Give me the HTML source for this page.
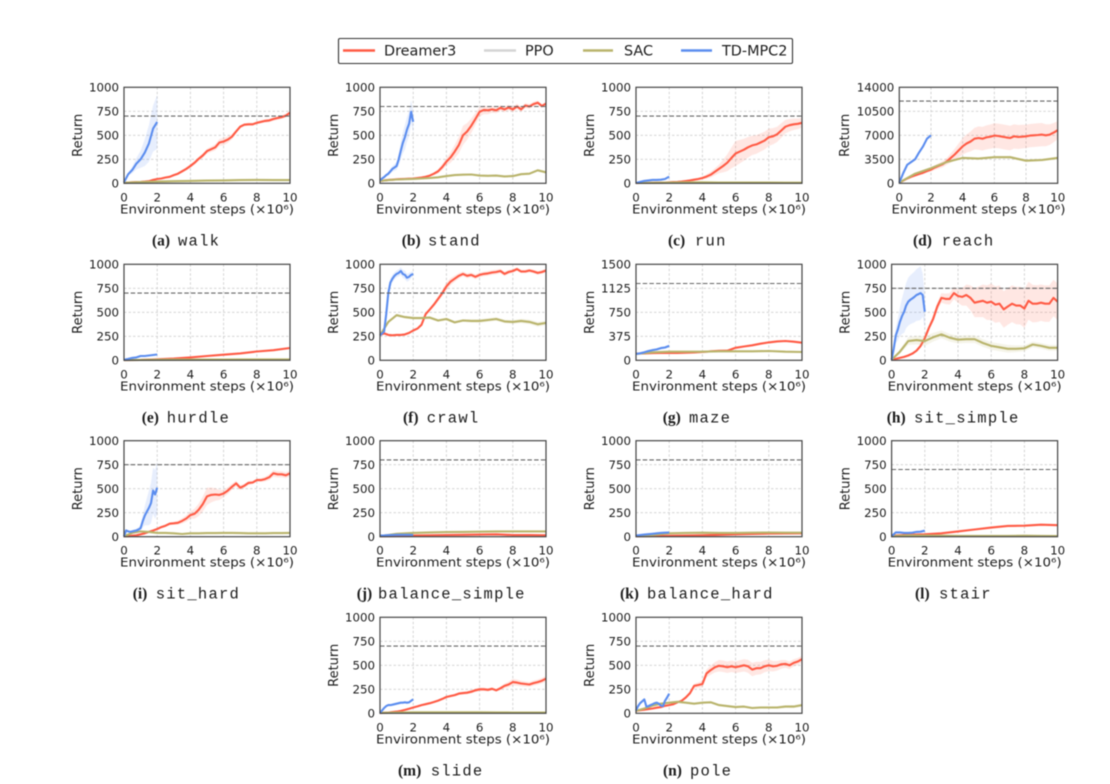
<!DOCTYPE html>
<html lang="en">
<head>
<meta charset="utf-8">
<title>Learning curves</title>
<style>
html,body{margin:0;padding:0;background:#fff;width:1110px;height:784px;overflow:hidden}
svg{display:block;filter:blur(0.45px)}
text{font-family:"DejaVu Sans","Liberation Sans",sans-serif;fill:#1c1c1c}
.tick{font-size:11.8px}
.axis-label{font-size:12px}
.return-label{font-size:13px}
.cap-b{font-family:"Liberation Serif",serif;font-weight:bold;font-size:15.5px}
.cap-m{font-family:"Liberation Mono",monospace;font-size:15.5px;letter-spacing:1.25px}
.legend-text{font-size:14.4px}
</style>
</head>
<body>
<svg id="chart" width="1110" height="784" viewBox="0 0 1110 784" xmlns="http://www.w3.org/2000/svg">
<g>
<rect x="338.5" y="38.5" width="454" height="25" rx="1.5" fill="#fff" stroke="#333" stroke-width="1.1"/>
<g>
<line x1="343" x2="375" y1="50.5" y2="50.5" stroke="#ff5b45" stroke-width="2.5"/>
<text class="legend-text" x="384" y="55.5">Dreamer3</text>
</g>
<g>
<line x1="484" x2="516" y1="50.5" y2="50.5" stroke="#d4d4d4" stroke-width="2.5"/>
<text class="legend-text" x="525" y="55.5">PPO</text>
</g>
<g>
<line x1="583" x2="613" y1="50.5" y2="50.5" stroke="#b9b46c" stroke-width="2.5"/>
<text class="legend-text" x="624" y="55.5">SAC</text>
</g>
<g>
<line x1="681" x2="712" y1="50.5" y2="50.5" stroke="#5b8def" stroke-width="2.5"/>
<text class="legend-text" x="722" y="55.5">TD-MPC2</text>
</g>
</g>
</svg>
<script>
// ---------- tick labels ----------
const xTicks = [0, 2, 4, 6, 8, 10];
const yTicks1000 = [0, 250, 500, 750, 1000];
const yTicks1500 = [0, 375, 750, 1125, 1500];
const yTicks14000 = [0, 3500, 7000, 10500, 14000];

// ---------- walk ----------
const walkDreamer = [5,8,10,12,15,18,22,35,45,50,60,68,85,100,125,150,180,215,255,290,335,355,375,425,435,455,485,540,590,610,615,615,630,640,650,655,670,680,690,705,735];
const walkDreamerSpread = [2,3,5,10,20,25,40,15,15,20,20];
const walkSac = [5,12,18,22,25,28,30,33,35,33,33];
const walkSacSpread = [1,2,3,3,3,3,3,3,3,3,3];
const walkTd = [10,95,140,205,250,320,415,570,640];
const walkTdSpread = [5,15,35,60,90,140,190,240,280];
// ---------- stand ----------
const standDreamer = [25,30,35,38,42,44,46,48,50,55,60,68,80,100,125,170,225,270,330,400,500,540,600,670,745,765,760,770,760,785,770,790,770,800,770,810,800,825,840,805,830];
const standDreamerSpread = [3,3,3,5,40,100,50,30,30,25,20];
const standSac = [25,33,40,43,46,50,55,62,75,85,90,92,80,78,80,72,75,95,100,135,115];
const standSacSpread = [2,2,3,4,5,8,8,8,8,10,12];
const standTd = [30,50,65,85,100,125,150,165,180,250,340,420,480,560,620,745,640];
const standTdSpread = [3,10,20,30,40,90,130,130,110];
// ---------- run ----------
const runDreamer = [2,3,4,4,5,6,7,8,10,12,15,18,24,30,38,45,55,70,90,120,150,180,215,265,310,330,350,375,395,405,425,445,480,490,510,550,590,605,615,620,630];
const runDreamerSpread = [1,1,2,5,15,45,130,100,90,70,50];
const runSac = [3,5,8,10,10,8,8,7,7,6,6];
const runSacSpread = [1,1,1,1,1,1,1,1,1,1,1];
const runTd = [3,15,25,30,35,35,38,45,70];
const runTdSpread = [1,3,4,5,5,5,6,8,10];
// ---------- reach ----------
const reachDreamer = [100,400,700,950,1150,1350,1550,1800,2000,2300,2550,2800,3200,3700,4200,4800,5400,5800,6100,6500,6600,6500,6700,6800,6950,6900,6800,6700,6600,6850,6750,6800,6850,6950,7000,7050,7100,7000,7100,7400,7750];
const reachDreamerSpread = [50,150,300,500,1200,1700,1800,1800,1700,1700,1300];
const reachSac = [100,1400,2200,3100,3700,3600,3800,3800,3300,3400,3700];
const reachSacSpread = [50,150,150,150,150,150,150,200,200,200,200];
const reachTd = [100,1500,2700,3100,3500,4500,5400,6500,7000];
const reachTdSpread = [20,100,120,100,100,100,100,100,100];
// ---------- hurdle ----------
const hurdleDreamer = [2,4,10,18,30,45,58,72,92,105,128];
const hurdleDreamerSpread = [1,1,2,3,3,4,4,4,5,5,6];
const hurdleSac = [2,4,6,7,8,8,8,9,9,9,9];
const hurdleSacSpread = [1,1,1,1,1,1,1,1,1,1,1];
const hurdleTd = [5,15,25,30,45,45,50,55,60];
const hurdleTdSpread = [1,3,5,6,8,8,8,8,8];
// ---------- crawl ----------
const crawlDreamer = [265,280,265,260,265,265,270,285,310,330,370,480,530,580,640,700,770,820,850,880,900,880,890,870,890,900,905,915,920,930,900,920,930,950,925,925,935,925,910,920,935];
const crawlDreamerSpread = [5,5,10,15,40,25,25,25,20,20,20];
const crawlSac = [260,400,470,450,440,440,445,415,430,395,415,410,410,420,430,405,400,410,400,375,390];
const crawlSacSpread = [5,15,15,15,15,15,20,20,20,25,25];
const crawlTd = [260,280,300,480,700,810,850,880,900,910,930,900,890,860,870,890,900];
const crawlTdSpread = [5,15,50,40,35,40,45,40,25];
// ---------- maze ----------
const mazeDreamer = [105,108,112,115,115,115,118,122,130,140,148,150,195,215,235,260,280,295,302,290,275];
const mazeDreamerSpread = [3,3,3,5,6,8,10,10,10,10,10];
const mazeSac = [100,125,135,135,135,140,140,140,145,135,130];
const mazeSacSpread = [3,3,3,3,3,3,3,3,3,3,3];
const mazeTd = [100,110,125,145,160,170,190,200,225];
const mazeTdSpread = [3,6,10,15,20,20,20,20,20];
// ---------- sit_simple ----------
const sitSimpleDreamer = [10,15,25,35,50,70,100,150,230,340,430,560,650,640,640,700,670,660,680,650,600,610,620,600,610,580,590,530,560,590,570,570,540,620,590,590,600,590,590,650,610];
const sitSimpleDreamerSpread = [5,10,20,50,70,150,190,190,200,190,190];
const sitSimpleSac = [5,90,200,210,200,240,270,235,215,220,220,180,150,135,120,120,125,165,150,130,130];
const sitSimpleSacSpread = [3,40,50,40,40,40,40,40,30,30,30];
const sitSimpleTd = [5,120,260,320,400,460,505,570,610,630,645,660,680,690,700,680,505];
const sitSimpleTdSpread = [5,80,150,220,250,260,270,280,170];
// ---------- sit_hard ----------
const sitHardDreamer = [5,5,10,15,25,35,50,65,80,100,115,135,140,145,165,190,225,240,280,340,420,435,440,435,450,480,520,555,510,530,560,565,590,590,600,620,660,650,650,640,660];
const sitHardDreamerSpread = [1,3,10,15,40,90,40,25,15,35,30];
const sitHardSac = [5,40,55,50,40,40,35,28,35,35,38,38,40,40,38,35,35,35,38,38,40];
const sitHardSacSpread = [2,4,4,4,3,3,3,3,3,3,3];
const sitHardTd = [5,65,55,50,55,60,65,75,90,160,220,260,300,350,480,440,510];
const sitHardTdSpread = [2,10,15,20,30,100,180,240,270];
// ---------- balance_simple ----------
const balanceSimpleDreamer = [5,8,12,15,18,20,22,25,18,18,15];
const balanceSimpleDreamerSpread = [1,1,2,2,2,2,3,3,3,3,3];
const balanceSimpleSac = [5,30,40,45,48,50,52,55,55,55,55];
const balanceSimpleSacSpread = [1,2,2,2,2,2,2,2,2,2,2];
const balanceSimpleTd = [12,14,16,18,20,20,20,20,18];
const balanceSimpleTdSpread = [1,1,1,1,1,1,1,1,1];
// ---------- balance_hard ----------
const balanceHardDreamer = [5,7,9,12,15,20,25,28,32,34,35];
const balanceHardDreamerSpread = [1,1,1,2,2,2,2,2,2,2,2];
const balanceHardSac = [8,18,35,40,42,40,40,42,44,42,42];
const balanceHardSacSpread = [1,2,2,2,2,2,2,2,2,2,2];
const balanceHardTd = [12,18,22,26,30,35,40,42,44];
const balanceHardTdSpread = [1,1,2,2,2,2,2,2,2];
// ---------- stair ----------
const stairDreamer = [10,20,25,35,55,75,95,112,115,125,120];
const stairDreamerSpread = [1,2,2,3,4,4,5,5,6,6,6];
const stairSac = [5,14,12,10,8,8,8,8,10,8,6];
const stairSacSpread = [1,2,2,2,2,2,2,2,2,2,2];
const stairTd = [5,45,45,40,40,42,50,52,62];
const stairTdSpread = [1,3,3,3,3,3,3,3,3];
// ---------- slide ----------
const slideDreamer = [2,5,8,12,18,25,35,48,60,72,85,95,105,118,132,150,170,180,190,205,210,215,225,240,250,250,245,255,240,260,285,300,325,320,310,305,300,315,325,340,360];
const slideDreamerSpread = [1,2,5,8,12,15,20,15,35,25,30];
const slideSac = [5,8,10,10,10,10,10,9,8,8,8];
const slideSacSpread = [1,1,1,1,1,1,1,1,1,1,1];
const slideTd = [5,30,55,75,85,85,90,95,100,105,110,110,115,110,115,130,145];
const slideTdSpread = [1,3,4,4,4,4,4,4,5];
// ---------- pole ----------
const poleDreamer = [25,32,38,44,50,58,65,78,85,95,115,130,165,210,285,295,305,415,450,480,495,490,480,490,480,490,500,490,455,470,470,490,500,490,495,510,515,500,525,540,565];
const poleDreamerSpread = [2,5,8,12,35,60,60,70,60,40,35];
const poleSac = [25,50,80,100,110,120,110,100,110,115,85,75,65,70,55,60,60,60,70,70,85];
const poleSacSpread = [2,3,4,5,8,10,12,12,14,15,18];
const poleTd = [30,75,105,125,145,70,75,85,95,105,110,100,80,75,130,165,205];
const poleTdSpread = [2,6,6,6,6,6,6,6,6];

// ---------- panel captions ----------
const captionLetters = ["(a)","(b)","(c)","(d)","(e)","(f)","(g)","(h)","(i)","(j)","(k)","(l)","(m)","(n)"];
const captionNames = ["walk","stand","run","reach","hurdle","crawl","maze","sit_simple","sit_hard","balance_simple","balance_hard","stair","slide","pole"];
const targets = [700,800,700,12000,700,700,1200,750,750,800,800,700,700,700];
const yTickSets = [yTicks1000,yTicks1000,yTicks1000,yTicks14000,yTicks1000,yTicks1000,yTicks1500,yTicks1000,yTicks1000,yTicks1000,yTicks1000,yTicks1000,yTicks1000,yTicks1000];
const dreamerSeries = [walkDreamer,standDreamer,runDreamer,reachDreamer,hurdleDreamer,crawlDreamer,mazeDreamer,sitSimpleDreamer,sitHardDreamer,balanceSimpleDreamer,balanceHardDreamer,stairDreamer,slideDreamer,poleDreamer];
const dreamerSpreads = [walkDreamerSpread,standDreamerSpread,runDreamerSpread,reachDreamerSpread,hurdleDreamerSpread,crawlDreamerSpread,mazeDreamerSpread,sitSimpleDreamerSpread,sitHardDreamerSpread,balanceSimpleDreamerSpread,balanceHardDreamerSpread,stairDreamerSpread,slideDreamerSpread,poleDreamerSpread];
const sacSeries = [walkSac,standSac,runSac,reachSac,hurdleSac,crawlSac,mazeSac,sitSimpleSac,sitHardSac,balanceSimpleSac,balanceHardSac,stairSac,slideSac,poleSac];
const sacSpreads = [walkSacSpread,standSacSpread,runSacSpread,reachSacSpread,hurdleSacSpread,crawlSacSpread,mazeSacSpread,sitSimpleSacSpread,sitHardSacSpread,balanceSimpleSacSpread,balanceHardSacSpread,stairSacSpread,slideSacSpread,poleSacSpread];
const tdSeries = [walkTd,standTd,runTd,reachTd,hurdleTd,crawlTd,mazeTd,sitSimpleTd,sitHardTd,balanceSimpleTd,balanceHardTd,stairTd,slideTd,poleTd];
const tdSpreads = [walkTdSpread,standTdSpread,runTdSpread,reachTdSpread,hurdleTdSpread,crawlTdSpread,mazeTdSpread,sitSimpleTdSpread,sitHardTdSpread,balanceSimpleTdSpread,balanceHardTdSpread,stairTdSpread,slideTdSpread,poleTdSpread];

// ---------- layout (not data) ----------
const colLeft = [124, 380, 636, 891.6];
const rowTop = [87.3, 264.3, 440.7, 617.3];
const panelW = 166, panelH = 96;
const origin = [[0,0],[1,0],[2,0],[3,0],[0,1],[1,1],[2,1],[3,1],[0,2],[1,2],[2,2],[3,2],[1,3],[2,3]];
const capLetterX = [152,401.7,668,913,141.7,403,662.7,886.7,132.7,356.7,620,915,398,663];
const capNameX = [178,428,695,941.7,166.7,426.7,689,914,155.7,378,647,939,430.7,690];
const NS = "http://www.w3.org/2000/svg";
const svg = document.getElementById("chart");

function mk(parent, tag, attrs, txt) {
  const el = document.createElementNS(NS, tag);
  for (const k in attrs) el.setAttribute(k, attrs[k]);
  if (txt !== undefined) el.textContent = txt;
  parent.appendChild(el);
  return el;
}
function spreadAt(arr, frac) {
  const p = frac * (arr.length - 1), i = Math.min(Math.floor(p), arr.length - 2), t = p - i;
  return arr[i] * (1 - t) + arr[i + 1] * t;
}
function drawSeries(g, vals, spread, xMax, sx, sy, color, key) {
  const up = [], lo = [], mid = [];
  vals.forEach((v, i) => {
    const f = i / (vals.length - 1), s = spreadAt(spread, f), x = sx(f * xMax);
    up.push(x.toFixed(1) + "," + sy(v + s).toFixed(1));
    lo.unshift(x.toFixed(1) + "," + sy(Math.max(0, v - s)).toFixed(1));
    mid.push(x.toFixed(1) + "," + sy(v).toFixed(1));
  });
  const band = mk(g, "polygon", {points: up.concat(lo).join(" "), fill: color, "fill-opacity": 0.15, stroke: "none"});
  
  
  const line = mk(g, "polyline", {points: mid.join(" "), fill: "none", stroke: color, "stroke-width": 2.1, "stroke-linejoin": "round"});
  
  
}

origin.forEach((o, n) => {
  const wide = yTickSets[n] === yTicks14000;
  const L = wide ? 899.3 : colLeft[o[0]];
  const W = wide ? 158.4 : panelW;
  const T = rowTop[o[1]], R = L + W, B = T + panelH;
  const yT = yTickSets[n], yMax = yT[yT.length - 1];
  const sx = v => L + v / 10 * W;
  const sy = v => B - Math.min(v, yMax) / yMax * panelH;
  const name = captionNames[n].replace(/_/g, "-");
  const g = mk(svg, "g", {});
  
  

  xTicks.forEach(t => {
    const x = sx(t);
    if (t > 0 && t < 10) {
      const gl = mk(g, "line", {x1: x, x2: x, y1: T, y2: B, stroke: "#cfcfcf", "stroke-width": 0.9, "stroke-dasharray": "2.5 2"});
      
      
    }
    const lab = mk(g, "text", {class: "tick", x: x, y: B + 18, "text-anchor": "middle"}, String(t));
    
    
  });
  yT.forEach(t => {
    const y = sy(t);
    if (t > 0 && t < yMax) {
      const gl = mk(g, "line", {x1: L, x2: R, y1: y, y2: y, stroke: "#cfcfcf", "stroke-width": 0.9, "stroke-dasharray": "2.5 2"});
      
      
    }
    const lab = mk(g, "text", {class: "tick", x: L - 5, y: y + 4.3, "text-anchor": "end"}, String(t));
    
    
  });

  drawSeries(g, dreamerSeries[n], dreamerSpreads[n], 10, sx, sy, "#ff5b45", "dreamer3-" + name);
  drawSeries(g, sacSeries[n], sacSpreads[n], 10, sx, sy, "#b9b46c", "sac-" + name);
  drawSeries(g, tdSeries[n], tdSpreads[n], 2, sx, sy, "#5b8def", "td-mpc2-" + name);

  const tg = mk(g, "line", {x1: L, x2: R, y1: sy(targets[n]), y2: sy(targets[n]), stroke: "#666", "stroke-width": 1.1, "stroke-dasharray": "4.5 2.2"});
  
  

  const fr = mk(g, "rect", {x: L, y: T, width: W, height: panelH, fill: "none", stroke: "#444", "stroke-width": 1.2});
  
  

  const xl = mk(g, "text", {class: "axis-label", x: L + W / 2, y: B + 30, "text-anchor": "middle", textLength: 174, lengthAdjust: "spacingAndGlyphs"}, "Environment steps (×10⁶)");
  
  

  const yx = wide ? L - 50.5 : L - 42, yy = T + panelH / 2;
  const yl = mk(g, "text", {class: "return-label", x: yx, y: yy, "text-anchor": "middle", transform: "rotate(-90 " + yx + " " + yy + ")"}, "Return");
  
  

  const capL = mk(g, "text", {class: "cap-b", x: capLetterX[n], y: B + 62}, captionLetters[n]);
  
  
  const capN = mk(g, "text", {class: "cap-m", x: capNameX[n], y: B + 62}, captionNames[n]);
  
  
});
</script>
</body>
</html>
